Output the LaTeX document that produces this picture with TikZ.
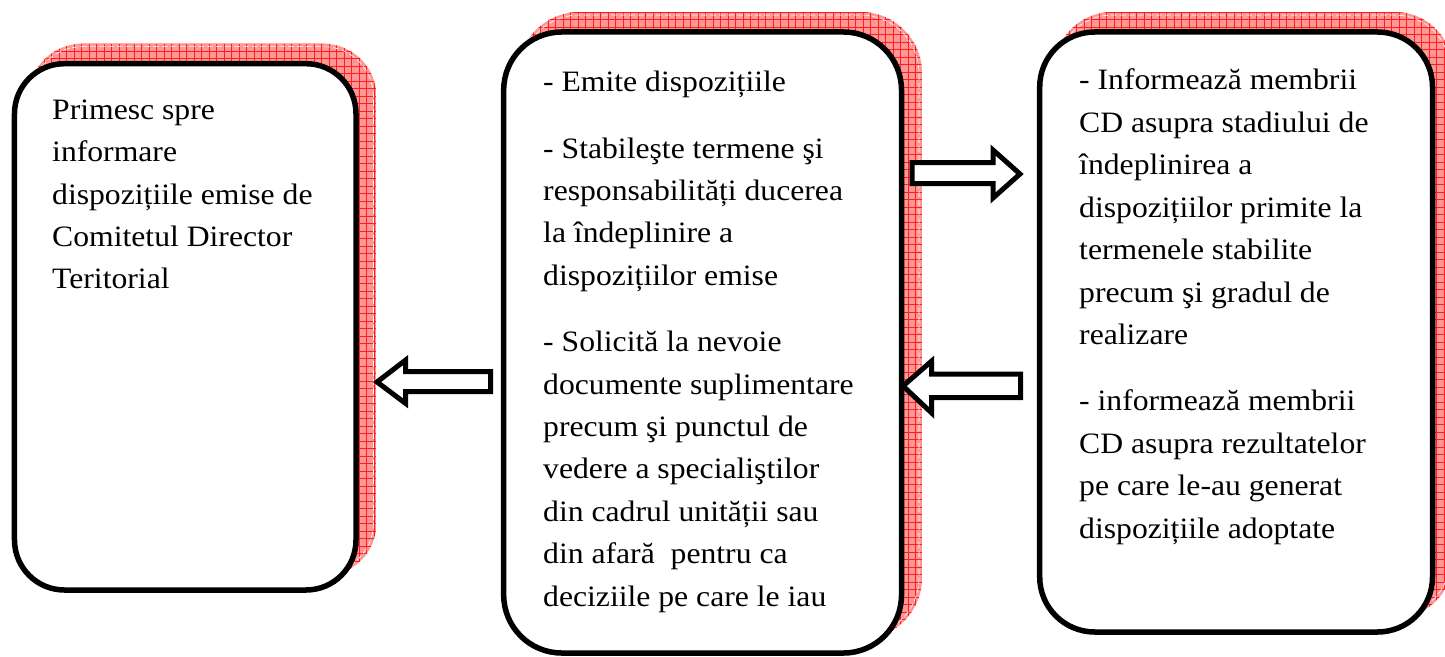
\documentclass[tikz,border=0pt]{standalone}
\usepackage{fontspec}
\setmainfont{Liberation Serif}[FakeStretch=1.07]
\definecolor{shadowred}{RGB}{255,150,150}
\definecolor{gridred}{RGB}{255,30,30}
\tikzset{
  box/.style={draw=black, line width=5.5bp, fill=white, inner sep=0pt},
  txt/.style={inner sep=0pt, anchor=base west},
  blockarrow/.style={draw=black, line width=5bp, fill=white, miter limit=10},
  gridln/.style={gridred, line width=0.5bp},
  innerdash/.style={white, line width=0.6bp, dash pattern=on 6bp off 3bp}
}
\newcommand\myshadow[5]{%
  \begin{scope}
    \clip[rounded corners=#5bp] (#1,#2) rectangle (#3,#4);
    \fill[shadowred] (#1,#2) rectangle (#3,#4);
    \foreach \k in {0,...,90} {
      \draw[gridln] ({#1+\k*7.5},#2) -- ({#1+\k*7.5},#4);
      \draw[gridln] (#1,{#2+\k*7.5}) -- (#3,{#2+\k*7.5});
    }
  \end{scope}
  \draw[innerdash, rounded corners={#5bp-3bp}] ({#1+3},{#2+3}) rectangle ({#3-3},{#4-3});
}
\newcommand\bodytext{\fontsize{29.6bp}{42.4bp}\selectfont\raggedright}
\begin{document}
\begin{tikzpicture}[x=1bp, y=-1bp]
\useasboundingbox (0,0) rectangle (1445,657);
% shadows
\myshadow{29}{43.7}{376.5}{576}{53}
\myshadow{518.2}{12}{922}{639}{61}
\myshadow{1054.2}{12}{1453}{618}{58}
% boxes
\node[box, rounded corners=50bp, minimum width=341.5bp, minimum height=526.3bp] (b1) at (185.25,326.85) {};
\node[box, rounded corners=58bp, minimum width=397.8bp, minimum height=621bp] (b2) at (702.6,342.5) {};
\node[box, rounded corners=55bp, minimum width=392.8bp, minimum height=600bp] (b3) at (1236.1,332) {};
% texts
\node[txt] (t1) at (52,119.3) {\parbox[t]{300bp}{\bodytext
Primesc spre\\
informare\\
dispozițiile emise de\\
Comitetul Director\\
Teritorial}};
\node[txt] (t2) at (543,91.7) {\parbox[t]{350bp}{\bodytext
- Emite dispozițiile\\[24bp]
- Stabileşte termene şi\\
responsabilități ducerea\\
la îndeplinire a\\
dispozițiilor emise\\[24bp]
- Solicită la nevoie\\
documente suplimentare\\
precum şi punctul de\\
vedere a specialiştilor\\
din cadrul unității sau\\
din afară~ pentru ca\\
deciziile pe care le iau}};
\node[txt] (t3) at (1079,90) {\parbox[t]{350bp}{\bodytext
- Informează membrii\\
CD asupra stadiului de\\
îndeplinirea a\\
dispozițiilor primite la\\
termenele stabilite\\
precum şi gradul de\\
realizare\\[24bp]
- informează membrii\\
CD asupra rezultatelor\\
pe care le-au generat\\
dispozițiile adoptate}};
% block arrows
\draw[blockarrow] (912,162.5) -- (993,162.5) -- (993,150) -- (1020,174) -- (993,198) -- (993,183.5) -- (912,183.5) -- cycle;
\draw[blockarrow] (1020.5,374) -- (931.7,374) -- (931.7,361) -- (903,386) -- (931.7,413) -- (931.7,397.5) -- (1020.5,397.5) -- cycle;
\draw[blockarrow] (490.5,371.5) -- (405.7,371.5) -- (405.7,360) -- (377,382) -- (405.7,403.5) -- (405.7,391.5) -- (490.5,391.5) -- cycle;
\end{tikzpicture}
\end{document}
